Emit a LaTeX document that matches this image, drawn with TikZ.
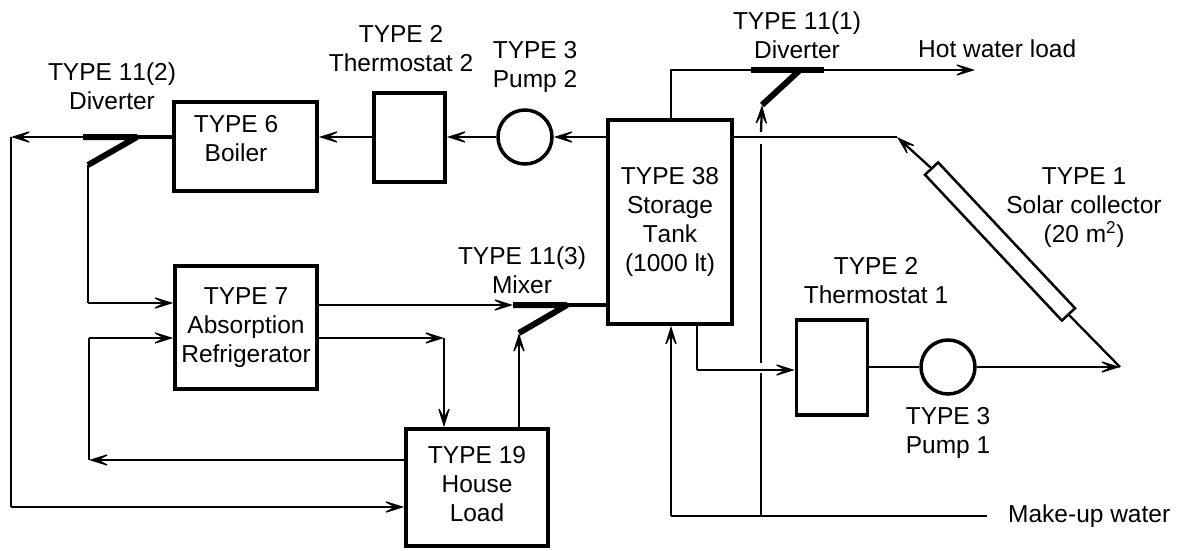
\documentclass[tikz,border=0pt]{standalone}
\usepackage{fontspec}
\setmainfont[Kerning=Off]{Liberation Sans}
\usetikzlibrary{positioning, arrows.meta}

\begin{document}
\begin{tikzpicture}[
              x = 1pt, y = -1pt,
       box/.style = {rectangle, draw, line width=3.5pt, align=center,
                     font=\fontsize{24.5}{29}\selectfont, inner sep=0pt},
      pump/.style = {circle, draw, line width=3.5pt, inner sep=0pt,
                     minimum size=54pt},
     panel/.style = {rectangle, draw, line width=2.5pt, inner sep=0pt,
                     minimum width=200pt, minimum height=18pt, rotate=-46.8},
       txt/.style = {align=center, inner sep=0pt,
                     font=\fontsize{24.5}{29}\selectfont},
      pipe/.style = {line width=2.3pt},
      flow/.style = {pipe, -{Stealth[length=24pt,width=15pt,inset=14pt,line width=1.2pt]}},
     valve/.style = {line width=6pt, line join=bevel}
                        ]
\useasboundingbox (0,0) rectangle (1183,551);
% boxes
\node (boiler) [box, minimum width=143pt, minimum height=89pt] at (245.5,146.5) {};
\node (thermb) [box, minimum width=71pt, minimum height=89pt] at (409.5,137.5) {};
\node (tank) [box, minimum width=124pt, minimum height=204pt] at (670,222) {TYPE 38\\Storage\\Tank\\(1000 lt)};
\node (absorb) [box, minimum width=142pt, minimum height=123pt, text depth=5pt] at (246,327.5) {TYPE 7\\Absorption\\Refrigerator};
\node (house) [box, minimum width=142pt, minimum height=117pt, text depth=8pt] at (477,487.5) {TYPE 19\\House\\Load};
\node (therma) [box, minimum width=71pt, minimum height=95pt] at (832,367.5) {};
\node (pumpb) [pump] at (525,137) {};
\node (pumpa) [pump] at (948,367) {};
\node (collector) [panel] at (1000,241.5) {};
% labels
\node (boilertxt) [txt] at (236,139) {TYPE 6\\Boiler};
\node (divbtxt) [txt] at (112,86) {TYPE 11(2)\\Diverter};
\node (thermbtxt) [txt] at (401,49) {TYPE 2\\Thermostat 2};
\node (pumpbtxt) [txt] at (535,67) {TYPE 3\\Pump 2};
\node (divatxt) [txt] at (797,35) {TYPE 11(1)\\Diverter};
\node (hottxt) [txt, anchor=west] at (918,49) {Hot water load};
\node (colltxt) [txt] at (1084,208) {TYPE 1\\Solar collector\\(20 m\textsuperscript{2})};
\node (thermatxt) [txt] at (876,281) {TYPE 2\\Thermostat 1};
\node (pumpatxt) [txt] at (948,433) {TYPE 3\\Pump 1};
\node (mixtxt) [txt] at (522,270) {TYPE 11(3)\\Mixer};
\node (maketxt) [txt, anchor=west] at (1008,516) {Make-up water};
% free ends and bends
\coordinate (divbl) at (83,137);
\coordinate (divbr) at (137,137);
\coordinate (divbarm) at (88,165);
\coordinate (divbout) at (11,137);
\coordinate (divbin) at (88,303);
\coordinate (housein) at (11,507);
\coordinate (mixl) at (513,305);
\coordinate (mixr) at (567,305);
\coordinate (mixarm) at (519,333);
\coordinate (refout) at (444,338);
\coordinate (loopa) at (89,338);
\coordinate (loopb) at (89,460);
\coordinate (makeend) at (671,516);
\coordinate (makemid) at (761,516);
\coordinate (gapa) at (761,373);
\coordinate (gapb) at (761,363);
\coordinate (gapc) at (761,144);
\coordinate (gapd) at (761,132);
\coordinate (divaarm) at (762,105);
\coordinate (divaj) at (800,70);
\coordinate (dival) at (751,70);
\coordinate (divar) at (824,70);
\coordinate (tanktop) at (671,70);
\coordinate (hotend) at (975,70);
\coordinate (kink) at (897,137);
\coordinate (apex) at (1120,367);
\coordinate (tankdown) at (697,370);
% diverter 2 and the boiler line
\draw[flow] (pumpb) -- (thermb.east |- pumpb);
\draw[flow] (tank.west |- pumpb) -- (pumpb);
\draw[flow] (thermb.west |- pumpb) -- (boiler.east |- pumpb);
\draw[line width=3.5pt] (boiler.west |- divbr) -- (divbr);
\draw[valve] (divbl) -- (divbr) -- (divbarm);
\draw[flow] (divbl) -- (divbout);
\draw[pipe] (divbout) -- (housein);
\draw[flow] (housein) -- (house.west |- housein);
\draw[pipe] (divbarm) -- (divbin);
\draw[flow] (divbin) -- (absorb.west |- divbin);
% refrigerator and mixer
\draw[flow] (absorb.east |- mixl) -- (mixl);
\draw[line width=3.5pt] (mixr) -- (tank.west |- mixr);
\draw[valve] (mixl) -- (mixr) -- (mixarm);
\draw[flow] (absorb.east |- refout) -- (refout);
\draw[flow] (refout) -- (refout |- house.north);
\draw[flow] (house.north -| mixarm) -- (mixarm);
\draw[flow] (house.west |- loopb) -- (loopb);
\draw[pipe] (loopb) -- (loopa);
\draw[flow] (loopa) -- (absorb.west |- loopa);
% make-up water
\draw[pipe] (maketxt.west) ++(-21,0) -- (makeend);
\draw[flow] (makeend) -- (makeend |- tank.south);
\draw[pipe] (makemid) -- (gapa);
\draw[pipe] (gapb) -- (gapc);
\draw[flow] (gapd) -- (divaarm);
% diverter 1
\draw[pipe] (tanktop |- tank.north) -- (tanktop) -- (dival);
\draw[valve] (dival) -- (divar);
\draw[valve] (divaj) -- (divaarm);
\draw[flow] (divar) -- (hotend);
% collector loop
\draw[pipe] (tank.east |- kink) -- (kink);
\draw[flow] (collector.west) -- (kink);
\draw[pipe] (collector.east) -- (apex);
\draw[flow] (pumpa) -- (apex);
\draw[pipe] (therma.east |- pumpa) -- (pumpa);
\draw[pipe] (tankdown |- tank.south) -- (tankdown);
\draw[flow] (tankdown) -- (therma.west |- tankdown);
\end{tikzpicture}
\end{document}
